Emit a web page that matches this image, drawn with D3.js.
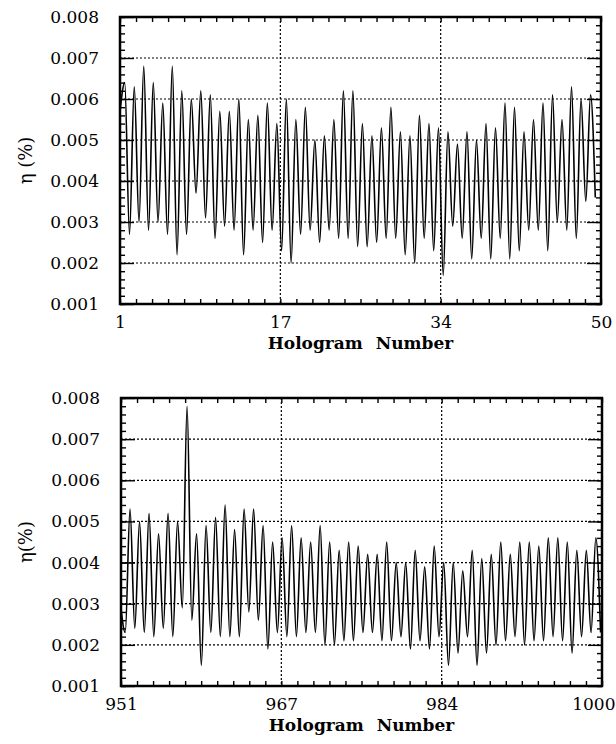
<!DOCTYPE html>
<html>
<head>
<meta charset="utf-8">
<script src="https://cdn.jsdelivr.net/npm/d3@7"></script>
<style>
  body { margin: 0; background: #fff; }
  text { font-family: "DejaVu Serif", serif; fill: #000; }
</style>
</head>
<body>
<div id="wrapper"></div>
<script>
// valores (eta em %)
const yTickValues = [0.001, 0.002, 0.003, 0.004, 0.005, 0.006, 0.007, 0.008]
const topXLabels = ["1", "17", "34", "50"]
const bottomXLabels = ["951", "967", "984", "1000"]

// painel de cima: hologramas 1..50
const topStart = 0.0057
const topPeaks = [
  0.0064, 0.0063, 0.0068, 0.0064, 0.0059, 0.0068, 0.0062, 0.0060, 0.0062, 0.0061,
  0.0057, 0.0057, 0.0060, 0.0055, 0.0056, 0.0059, 0.0054, 0.0060, 0.0055, 0.0058,
  0.0050, 0.0051, 0.0055, 0.0062, 0.0062, 0.0054, 0.0051, 0.0053, 0.0058, 0.0052,
  0.0051, 0.0056, 0.0054, 0.0053, 0.0052, 0.0049, 0.0052, 0.0050, 0.0054, 0.0053,
  0.0059, 0.0058, 0.0052, 0.0055, 0.0059, 0.0061, 0.0055, 0.0063, 0.0060, 0.0061
]
const topTroughs = [
  0.0027, 0.0030, 0.0028, 0.0030, 0.0027, 0.0022, 0.0027, 0.0037, 0.0031, 0.0026,
  0.0029, 0.0028, 0.0022, 0.0028, 0.0025, 0.0028, 0.0023, 0.0020, 0.0027, 0.0028,
  0.0025, 0.0028, 0.0026, 0.0026, 0.0024, 0.0024, 0.0025, 0.0026, 0.0026, 0.0022,
  0.0020, 0.0026, 0.0023, 0.0017, 0.0029, 0.0026, 0.0021, 0.0026, 0.0021, 0.0026,
  0.0021, 0.0023, 0.0028, 0.0028, 0.0023, 0.0030, 0.0028, 0.0026, 0.0035, 0.0036
]

// painel de baixo: hologramas 951..1000
const bottomStart = 0.0030
const bottomFirstTrough = 0.0023
const bottomPeaks = [
  0.0053, 0.0050, 0.0052, 0.0047, 0.0052, 0.0050, 0.0078, 0.0047, 0.0049, 0.0051,
  0.0054, 0.0048, 0.0053, 0.0053, 0.0049, 0.0045, 0.0046, 0.0049, 0.0046, 0.0045,
  0.0049, 0.0045, 0.0043, 0.0045, 0.0044, 0.0042, 0.0042, 0.0045, 0.0040, 0.0040,
  0.0043, 0.0039, 0.0044, 0.0040, 0.0040, 0.0038, 0.0043, 0.0041, 0.0042, 0.0045,
  0.0042, 0.0045, 0.0045, 0.0044, 0.0046, 0.0046, 0.0045, 0.0043, 0.0043, 0.0046
]
const bottomTroughs = [
  0.0024, 0.0023, 0.0022, 0.0024, 0.0022, 0.0029, 0.0026, 0.0015, 0.0023, 0.0022,
  0.0022, 0.0022, 0.0028, 0.0026, 0.0019, 0.0023, 0.0022, 0.0022, 0.0023, 0.0023,
  0.0020, 0.0020, 0.0021, 0.0021, 0.0023, 0.0023, 0.0021, 0.0021, 0.0022, 0.0019,
  0.0021, 0.0019, 0.0022, 0.0015, 0.0018, 0.0022, 0.0015, 0.0018, 0.0020, 0.0021,
  0.0022, 0.0020, 0.0021, 0.0021, 0.0022, 0.0021, 0.0018, 0.0022, 0.0023, 0.0023
]

function drawChart() {
  const svg = d3.select("#wrapper")
    .append("svg")
      .attr("width", 616)
      .attr("height", 744)

  // sequência de pontos de virada: pico, vale, pico, vale...
  const topSeries = [topStart]
  topPeaks.forEach((p, i) => topSeries.push(p, topTroughs[i]))
  const bottomSeries = [bottomStart, bottomFirstTrough]
  bottomPeaks.forEach((p, i) => bottomSeries.push(p, bottomTroughs[i]))

  drawPanel(svg, {
    left: 120, top: 17, width: 481, height: 287,
    series: topSeries, phase: 0,
    xLabels: topXLabels, yTitle: "\u03b7 (%)", pinLast: false
  })
  drawPanel(svg, {
    left: 121, top: 398, width: 481, height: 288,
    series: bottomSeries, phase: -0.05,
    xLabels: bottomXLabels, yTitle: "\u03b7(%)", pinLast: true
  })
}

function drawPanel(svg, p) {
  const bounds = svg.append("g")
    .attr("transform", `translate(${p.left},${p.top})`)

  // eixo x em "ciclos" (um ciclo por holograma)
  const xScale = d3.scaleLinear()
    .domain([0, 50.6])
    .range([0, p.width])
  const yScale = d3.scaleLinear()
    .domain([0.001, 0.008])
    .range([p.height, 0])

  const xMax = xScale.domain()[1]
  const xMajor = d3.range(4).map(i => i * xMax / 3)
  const xMinor = d3.range(31).map(i => i * xMax / 30)
  const yMinor = d3.range(36).map(i => 0.001 + i * 0.0002)

  // grade pontilhada
  const grid = bounds.append("g")
    .attr("stroke", "#000")
    .attr("stroke-width", 1.2)
    .attr("stroke-dasharray", "2,2")
  grid.selectAll(".hgrid")
    .data(yTickValues.slice(1, -1))
    .join("line")
      .attr("x1", 0).attr("x2", p.width)
      .attr("y1", d => yScale(d)).attr("y2", d => yScale(d))
  grid.selectAll(".vgrid")
    .data(xMajor.slice(1, -1))
    .join("line")
      .attr("x1", d => xScale(d)).attr("x2", d => xScale(d))
      .attr("y1", 0).attr("y2", p.height)

  // traços menores e maiores em todos os lados
  const tickGroup = (gen, tx, ty) => bounds.append("g")
    .attr("transform", `translate(${tx},${ty})`)
    .call(gen)
    .call(g => g.select(".domain").remove())
    .call(g => g.selectAll("line").attr("stroke-width", 1.4))

  tickGroup(d3.axisBottom(xScale).tickValues(xMinor).tickSize(-5).tickFormat(""), 0, p.height)
  tickGroup(d3.axisTop(xScale).tickValues(xMinor).tickSize(-5).tickFormat(""), 0, 0)
  tickGroup(d3.axisLeft(yScale).tickValues(yMinor).tickSize(-5).tickFormat(""), 0, 0)
  tickGroup(d3.axisRight(yScale).tickValues(yMinor).tickSize(-5).tickFormat(""), p.width, 0)
  tickGroup(d3.axisLeft(yScale).tickValues(yTickValues).tickSize(-14).tickFormat(""), 0, 0)
  tickGroup(d3.axisRight(yScale).tickValues(yTickValues).tickSize(-14).tickFormat(""), p.width, 0)

  // linha dos dados
  const lineGenerator = d3.line()
    .x((d, i) => xScale(p.phase + i * 0.5))
    .y(d => yScale(d))
    .curve(d3.curveMonotoneX)

  const clipId = "clip" + p.top
  bounds.append("clipPath").attr("id", clipId)
    .append("rect").attr("width", p.width).attr("height", p.height)

  bounds.append("path")
    .attr("clip-path", `url(#${clipId})`)
    .attr("d", lineGenerator(p.series))
    .attr("fill", "none")
    .attr("stroke", "#000")
    .attr("stroke-width", 1.6)
    .attr("stroke-linejoin", "round")

  // moldura grossa
  bounds.append("rect")
    .attr("width", p.width)
    .attr("height", p.height)
    .attr("fill", "none")
    .attr("stroke", "#000")
    .attr("stroke-width", 2.5)

  // rótulos do eixo y
  const yAxis = bounds.append("g")
    .call(d3.axisLeft(yScale).tickValues(yTickValues).tickSize(0).tickPadding(21)
      .tickFormat(d3.format(".3f")))
  yAxis.select(".domain").remove()
  yAxis.selectAll("text")
    .style("font-family", "DejaVu Serif")
    .style("font-size", "17px")

  // rótulos do eixo x
  const xAxis = bounds.append("g")
    .attr("transform", `translate(0,${p.height})`)
    .call(d3.axisBottom(xScale).tickValues(xMajor).tickSize(0).tickPadding(12)
      .tickFormat((d, i) => p.xLabels[i]))
  xAxis.select(".domain").remove()
  xAxis.selectAll("text")
    .style("font-family", "DejaVu Serif")
    .style("font-size", "17px")
  // "1000" não cabe centrado, encosta na borda da página
  if (p.pinLast) {
    xAxis.selectAll("text")
      .filter((d, i) => i === p.xLabels.length - 1)
      .attr("text-anchor", "end")
      .attr("dx", 616 - p.left - p.width - 1)
  }

  bounds.append("text")
    .attr("x", p.width / 2)
    .attr("y", p.height + 45)
    .attr("text-anchor", "middle")
    .style("font-size", "17px")
    .style("font-weight", "bold")
    .style("word-spacing", "7px")
    .text("Hologram Number")

  bounds.append("text")
    .attr("transform", `translate(${-p.left + 32},${p.height / 2}) rotate(-90)`)
    .attr("text-anchor", "middle")
    .style("font-size", "18px")
    .text(p.yTitle)
}

drawChart()
</script>
</body>
</html>
